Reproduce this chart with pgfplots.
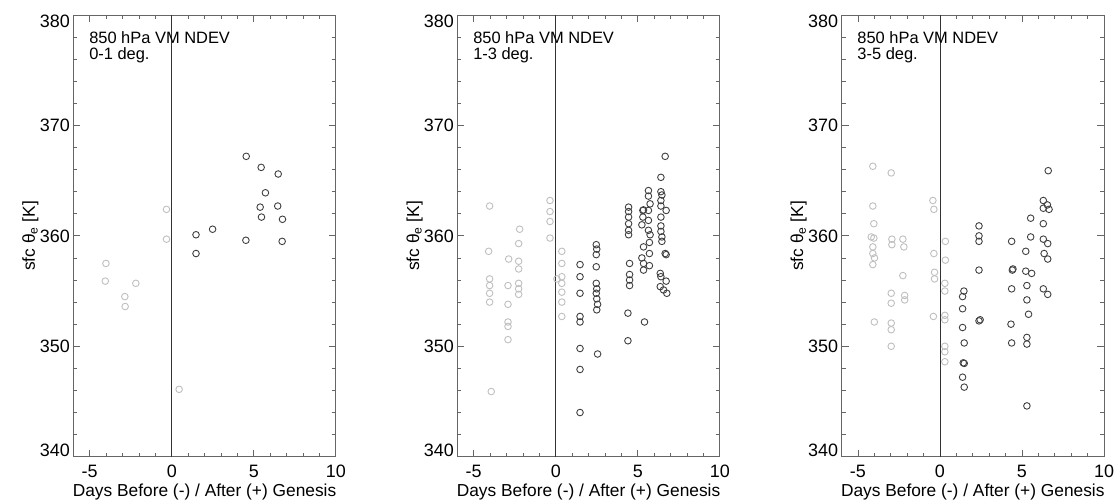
\documentclass[border=0pt]{standalone}
\usepackage{pgfplots}
\pgfplotsset{compat=1.18}
\usepackage{fontspec}
\setmainfont{Liberation Sans}
\newdimen\ylshift
\pgfplotsset{
 panel/.style={
  scale only axis, width=262.5bp, height=441.7bp,
  xmin=-6, xmax=10, ymin=340, ymax=380,
  xtick={-5,0,5,10}, xticklabels={-5,0,5,10},
  minor x tick num=4,
  ytick={340,350,...,380}, minor y tick num=4,
  xtick pos=both, ytick pos=both,
  tick align=inside,
  major tick length=7bp, minor tick length=4bp,
  axis line style={black!60, line width=0.8bp},
  tick style={black!60, line width=0.8bp},
  tick label style={font=\fontsize{18}{20}\selectfont},
  xlabel={Days Before (-) / After (+) Genesis},
  ylabel={sfc θ\textsubscript{e} [K]},
  every axis x label/.style={at={(axis description cs:0.5,-0.081)},anchor=center,font=\fontsize{17.4}{20}\selectfont},
  every axis y label/.style={at={(axis description cs:-0.163,0.5)},rotate=90,anchor=center,font=\fontsize{17.4}{20}\selectfont},
  xticklabel style={yshift=-5bp},
  yticklabel={\ifnum\ticknum=0 \ylshift=0bp \else\ifnum\ticknum=4 \ylshift=12.9bp \else\ylshift=6.45bp \fi\fi\smash{\lower\ylshift\hbox{\pgfmathprintnumber[assume math mode=true]{\tick}}}},
 },
 grayp/.style={only marks, mark=o, black!25, mark size=3.3bp, mark options={line width=0.9bp}},
 blackp/.style={only marks, mark=o, black!75, mark size=3.3bp, mark options={line width=0.9bp}},
 zline/.style={black!80, line width=0.8bp},
}
\newcommand\paneltitle[1]{\node[anchor=north west, align=left, inner sep=0pt, font=\fontsize{16.5}{16.3}\selectfont] at (rel axis cs:0.06,0.964) {850 hPa VM NDEV\\#1};}
\begin{document}
\begin{tikzpicture}
\useasboundingbox (0,0) rectangle (1117bp,504bp);
% ---------------- panel 1
\begin{axis}[panel, at={(73.3bp,47.3bp)}, anchor=south west]
\addplot[zline] coordinates {(0,340) (0,380)};
\addplot[grayp] table {
x y
-4.01 357.5
-4.05 355.9
-2.19 355.7
-2.86 354.5
-2.84 353.6
-0.32 362.4
-0.32 359.7
0.45 346.1
};
\addplot[blackp] table {
x y
4.54 367.2
5.45 366.2
6.49 365.6
5.71 363.9
5.39 362.6
6.46 362.7
5.47 361.7
6.75 361.5
2.49 360.6
1.48 360.1
4.52 359.6
6.73 359.5
1.48 358.4
};
\paneltitle{0-1 deg.}
\end{axis}
% ---------------- panel 2
\begin{axis}[panel, at={(457.3bp,47.3bp)}, anchor=south west]
\addplot[zline] coordinates {(0,340) (0,380)};
\addplot[grayp] table {
x y
-4.03 362.7
-2.20 360.6
-2.26 359.3
-4.09 358.6
-2.87 357.9
-2.26 357.7
-2.26 357.0
-2.26 355.7
-2.26 355.2
-2.26 354.7
-4.03 356.1
-4.03 355.5
-2.91 355.5
-4.03 354.8
-4.03 354.0
-2.91 353.8
-2.91 352.2
-2.91 351.8
-2.91 350.6
-3.93 345.9
-0.35 363.2
-0.35 362.2
-0.35 361.3
-0.35 359.8
0.37 358.6
0.37 357.5
0.37 356.3
0.37 355.7
0.37 354.9
0.37 354.0
0.37 352.7
0.07 356.1
};
\addplot[blackp] table {
x y
1.48 357.4
1.48 356.3
1.48 354.8
1.48 352.7
1.48 352.2
1.48 349.8
1.48 347.9
1.48 344.0
2.47 359.2
2.50 358.8
2.47 358.3
2.47 357.2
2.47 355.7
2.50 355.2
2.47 354.8
2.50 354.3
2.55 353.8
2.50 353.3
2.55 349.3
4.44 362.6
4.44 362.2
4.44 361.7
4.44 361.1
4.44 360.5
4.44 360.1
4.50 357.5
4.50 356.5
4.50 356.0
4.50 355.5
4.40 353.0
4.40 350.5
5.65 364.1
5.65 363.6
5.75 362.9
5.31 362.3
5.35 362.35
5.65 362.3
5.31 361.7
5.65 361.4
5.25 361.0
5.65 360.5
5.75 360.1
5.35 359.0
5.71 359.4
5.71 358.4
5.25 358.0
5.35 357.5
5.71 357.3
5.35 356.9
5.41 352.2
6.67 367.2
6.41 365.3
6.41 364.0
6.47 363.7
6.41 363.2
6.41 362.7
6.73 362.3
6.41 361.7
6.41 360.9
6.41 360.4
6.47 359.9
6.47 359.5
6.67 358.4
6.73 358.3
6.37 356.6
6.41 356.3
6.73 355.9
6.37 355.4
6.57 355.1
6.77 354.8
};
\paneltitle{1-3 deg.}
\end{axis}
% ---------------- panel 3
\begin{axis}[panel, at={(841.5bp,47.3bp)}, anchor=south west]
\addplot[zline] coordinates {(0,340) (0,380)};
\addplot[grayp] table {
x y
-4.09 366.3
-2.97 365.7
-4.09 362.7
-4.03 361.1
-4.19 359.9
-4.03 359.8
-2.93 359.7
-2.26 359.7
-2.93 359.2
-2.20 359.0
-4.09 359.0
-4.09 358.4
-3.99 358.0
-4.09 357.4
-2.26 356.4
-0.43 363.2
-0.37 362.4
-0.37 358.4
-0.33 356.7
-0.33 356.1
0.33 359.5
0.33 357.8
-2.97 354.8
-2.15 354.6
-2.97 353.9
-2.15 354.2
-4.00 352.2
-2.97 352.1
-2.97 351.5
-2.97 350.0
0.30 355.7
0.30 355.0
0.30 352.8
0.30 352.4
0.30 350.0
0.30 349.5
0.30 348.6
-0.40 352.7
};
\addplot[blackp] table {
x y
6.60 365.9
6.30 363.2
6.55 362.8
6.30 362.5
6.65 362.4
5.53 361.6
6.30 361.1
2.38 360.9
2.38 360.0
2.38 359.5
4.37 359.5
5.53 359.9
6.30 359.7
6.57 359.3
5.23 358.6
6.35 358.4
6.57 357.9
2.38 356.9
4.41 356.9
4.45 357.0
5.23 356.8
5.59 356.6
4.37 355.2
5.30 355.5
6.30 355.2
6.57 354.7
5.30 354.2
5.40 352.9
2.38 352.3
2.45 352.4
4.33 352.0
5.30 350.8
5.30 350.2
4.37 350.3
5.30 344.6
1.46 355.0
1.38 354.5
1.38 353.4
1.38 351.7
1.48 350.3
1.42 348.5
1.48 348.45
1.38 347.2
1.48 346.3
};
\paneltitle{3-5 deg.}
\end{axis}
\end{tikzpicture}
\end{document}
